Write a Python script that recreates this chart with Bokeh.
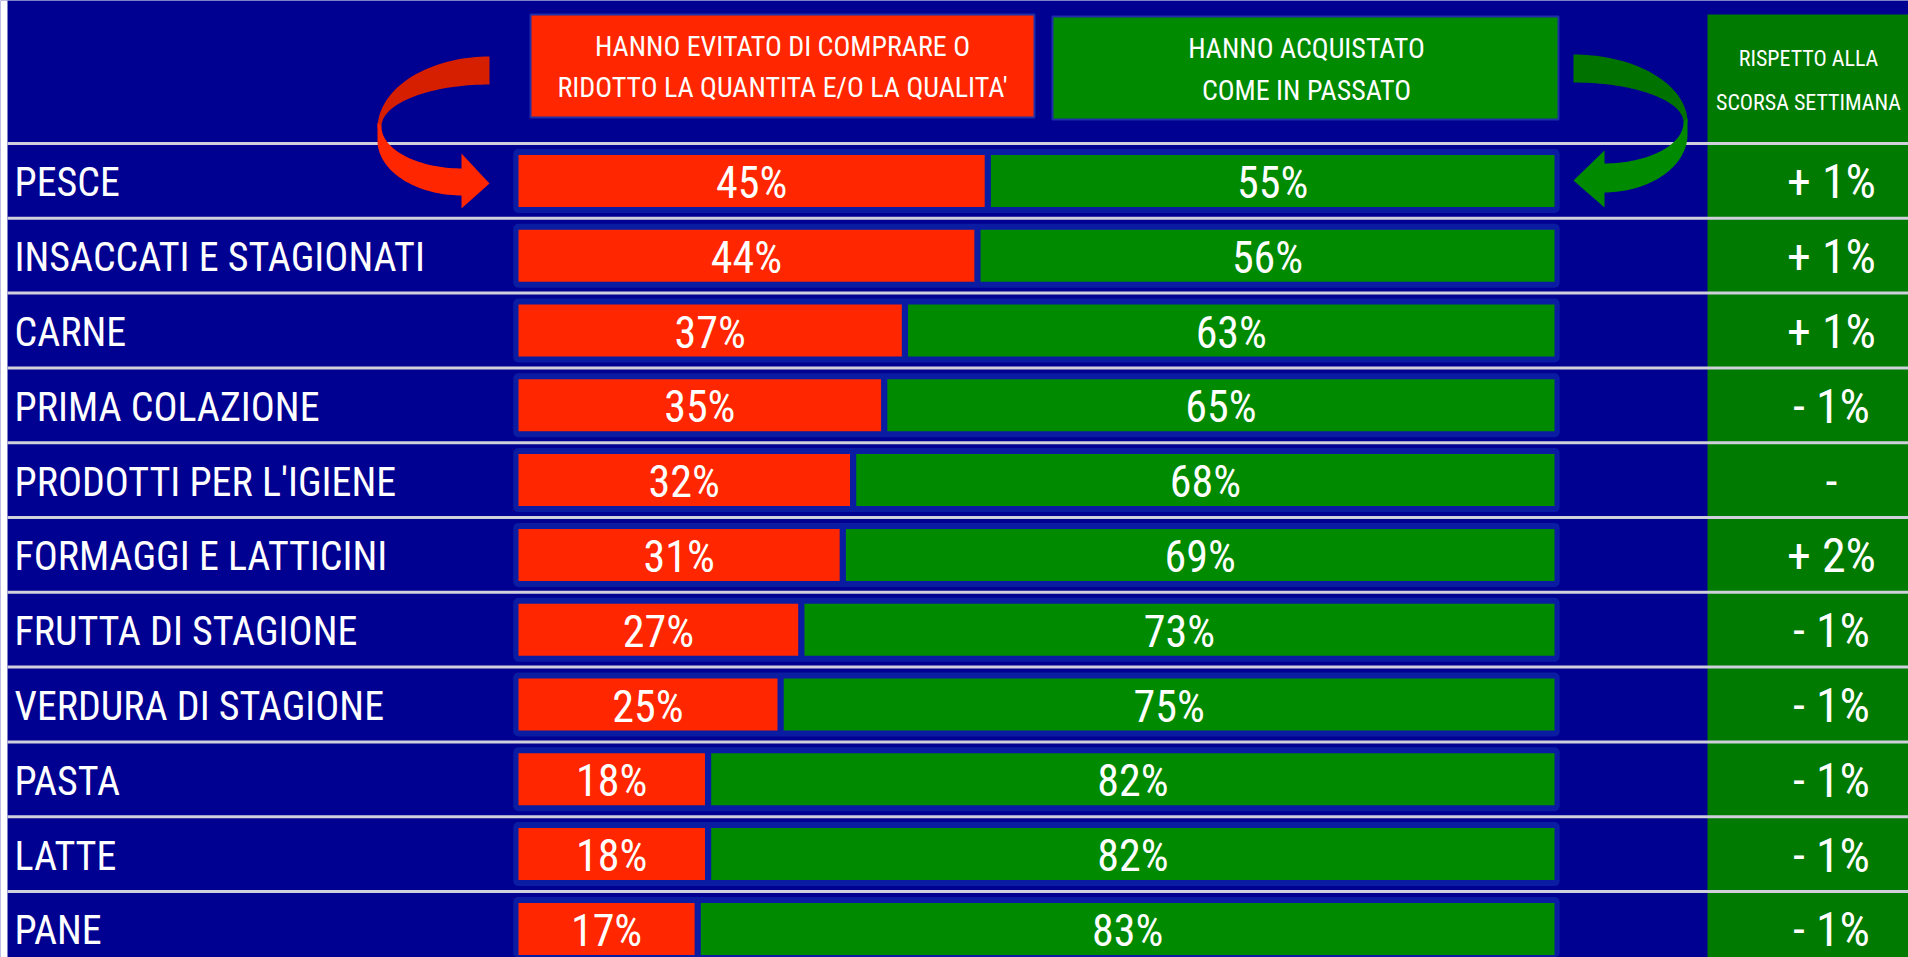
import numpy as np
from bokeh.plotting import figure
from bokeh.models import ColumnDataSource, Range1d
from bokeh.core.properties import value
from bokeh.embed import file_html
from bokeh.resources import INLINE

# ---------------- data ----------------
categories = ["PESCE", "INSACCATI E STAGIONATI", "CARNE", "PRIMA COLAZIONE",
              "PRODOTTI PER L'IGIENE", "FORMAGGI E LATTICINI", "FRUTTA DI STAGIONE",
              "VERDURA DI STAGIONE", "PASTA", "LATTE", "PANE"]
avoided = [45, 44, 37, 35, 32, 31, 27, 25, 18, 18, 17]
bought = [55, 56, 63, 65, 68, 69, 73, 75, 82, 82, 83]
change_labels = ["+ 1%", "+ 1%", "+ 1%", "- 1%", "-", "+ 2%", "- 1%", "- 1%", "- 1%", "- 1%", "- 1%"]
header_avoided = ["HANNO EVITATO DI COMPRARE O", "RIDOTTO LA QUANTITA E/O LA QUALITA'"]
header_bought = ["HANNO ACQUISTATO", "COME IN PASSATO"]
header_change = ["RISPETTO ALLA", "SCORSA SETTIMANA"]

# ---------------- layout helpers (reference pixels -> data units) ----------------
X0, SX = 518.0, 10.36      # pixel of 0 %, pixels per %
Y0, RH = 143.0, 74.8       # top of first row, row height


def fx(X):
    return (X - X0) / SX


def fy(Y):
    return (Y - Y0) / RH - 0.5


FONT = value("Roboto Condensed")
BG = "#000091"
RED = "#ff2600"
GREEN = "#008a00"
COLGREEN = "#007a00"

p = figure(width=1908, height=957, min_border=0, toolbar_location=None,
           output_backend="svg", x_axis_type=None, y_axis_type=None,
           x_range=Range1d(fx(0), fx(1908)), y_range=Range1d(fy(957), fy(0)),
           background_fill_color=BG, border_fill_color=BG, outline_line_color=None)
p.grid.visible = False

idx = list(range(len(categories)))
n = len(categories)

# white strip at the left edge
p.quad(left=fx(-20), right=fx(7), top=fy(-20), bottom=fy(1000),
       fill_color="white", line_color=None)

# right column
p.quad(left=fx(1707), right=fx(1960), top=fy(14), bottom=fy(1010),
       fill_color=COLGREEN, line_color=None)

# separators
p.segment(x0=[fx(7)] * n, x1=[fx(1960)] * n, y0=[i - 0.5 for i in idx],
          y1=[i - 0.5 for i in idx], line_color="#cfd0dc", line_width=3)

# header boxes
p.quad(left=fx(530), right=fx(1034), top=fy(14), bottom=fy(117),
       fill_color=RED, line_color="#1f2fa8", line_width=2)
p.quad(left=fx(1052), right=fx(1558), top=fy(16), bottom=fy(119),
       fill_color=GREEN, line_color="#1f2fa8", line_width=2)

# bars
src = ColumnDataSource(dict(
    y=idx, cat=categories, avoided=avoided, bought=bought,
    gstart=[a + 0.6 for a in avoided],
    gend=[a + b for a, b in zip(avoided, bought)],
    rlab=[f"{a}%" for a in avoided], glab=[f"{b}%" for b in bought],
    rx=[a / 2 for a in avoided], gx=[(a + 0.6 + a + b) / 2 for a, b in zip(avoided, bought)],
    chg=change_labels,
))

p.hbar(y="y", left=-0.5, right=100.5, height=64 / RH, source=src,
       fill_color="#0a1ca2", line_color=None, border_radius=5)
p.hbar(y="y", left=0, right="avoided", height=52 / RH, source=src,
       fill_color=RED, line_color=None)
p.hbar(y="y", left="gstart", right="gend", height=52 / RH, source=src,
       fill_color=GREEN, line_color=None)

# arrows (decoration)


def arc(cx, cy, rx, ry, t0, t1, k=40):
    t = np.radians(np.linspace(t0, t1, k))
    return list(cx + rx * np.cos(t)), list(cy - ry * np.sin(t))


def patch_px(xs, ys, color):
    p.patch([fx(x) for x in xs], [fy(y) for y in ys], fill_color=color, line_color=None)


# red arrow, upper (dark) part
ox, oy = arc(489, 128, 112, 72, 90, 180)
ix, iy = arc(489, 126, 108, 42, 180, 90)
patch_px(ox + ix, oy + iy, "#d61f00")
# red arrow, lower (bright) part
ox, oy = arc(462, 140, 85, 55, 180, 270)
ix, iy = arc(462, 126, 81, 42, 270, 180)
patch_px([377] + ox + [463, 463] + ix, [122] + oy + [195, 168] + iy, RED)
patch_px([461, 489, 461], [153, 183, 208], RED)

# green arrow, upper (dark) part
ox, oy = arc(1573, 122, 114, 68, 90, 0)
ix, iy = arc(1573, 122, 110, 40, 0, 90)
patch_px(ox + ix, oy + iy, "#007200")
# green arrow, lower (bright) part
ox, oy = arc(1603, 134, 84, 58, 0, -90)
ix, iy = arc(1603, 122, 80, 41, -90, 0)
patch_px([1687] + ox + [1602, 1602] + ix, [118] + oy + [192, 163] + iy, GREEN)
patch_px([1604, 1573, 1604], [150, 180, 207], GREEN)

# texts
p.text(x=fx(14), y="y", text="cat", source=src, text_font=FONT, text_font_size="40px",
       text_color="white", text_align="left", text_baseline="middle", y_offset=2)
p.text(x="rx", y="y", text="rlab", source=src, text_font=FONT, text_font_size="44px",
       text_color="white", text_align="center", text_baseline="middle", y_offset=2)
p.text(x="gx", y="y", text="glab", source=src, text_font=FONT, text_font_size="44px",
       text_color="white", text_align="center", text_baseline="middle", y_offset=2)
p.text(x=fx(1831), y="y", text="chg", source=src, text_font=FONT, text_font_size="48px",
       text_color="white", text_align="center", text_baseline="middle", y_offset=1)

p.text(x=[fx(782)] * 2, y=[fy(45), fy(86)], text=header_avoided, text_font=FONT,
       text_font_size="28px", text_color="white", text_align="center",
       text_baseline="middle", y_offset=1)
p.text(x=[fx(1306)] * 2, y=[fy(47), fy(89)], text=header_bought, text_font=FONT,
       text_font_size="28px", text_color="white", text_align="center",
       text_baseline="middle", y_offset=1)
p.text(x=[fx(1808)] * 2, y=[fy(57), fy(101)], text=header_change, text_font=FONT,
       text_font_size="22px", text_color="white", text_align="center",
       text_baseline="middle", y_offset=1)

open("out.html", "w").write(file_html(p, INLINE))
